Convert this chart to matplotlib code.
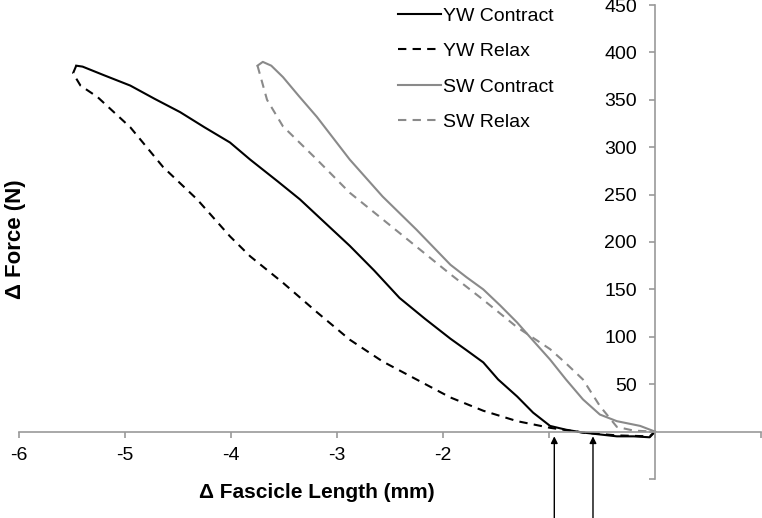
import numpy as np
import matplotlib
matplotlib.use('Agg')
import matplotlib.pyplot as plt

plt.rcParams['font.family'] = ['Liberation Sans', 'DejaVu Sans']

# YW contract (0 -> peak)
yw_con_x = [0, -0.05, -0.20, -0.36, -0.52, -0.68, -0.84, -0.99, -1.15, -1.30, -1.48, -1.62, -1.78, -1.93,
            -2.17, -2.41, -2.65, -2.88, -3.12, -3.35, -3.56, -3.82, -4.01, -4.25, -4.48, -4.72,
            -4.95, -5.20, -5.40, -5.46]
yw_con_y = [0, -6, -5, -5, -3, -1, 2, 6, 20, 37, 55, 73, 86, 98,
            119, 141, 170, 196, 221, 245, 264, 287, 305, 321, 337, 351,
            365, 376, 385, 386]

# YW relax (peak -> 0)
yw_rel_x = [-5.46, -5.49, -5.42, -5.26, -4.95, -4.64, -4.32, -4.01, -3.82, -3.51, -3.19, -2.88,
            -2.57, -2.25, -1.93, -1.62, -1.30, -0.99, -0.68, -0.36, -0.05, 0]
yw_rel_y = [386, 378, 365, 353, 321, 279, 245, 206, 185, 157, 126, 97,
            74, 55, 36, 22, 11, 4, -1, -4, -5, 0]

# SW contract (0 -> peak)
sw_con_x = [0, -0.14, -0.36, -0.52, -0.68, -0.84, -0.99, -1.15, -1.30, -1.46, -1.62, -1.78, -1.93,
            -2.25, -2.57, -2.88, -3.19, -3.36, -3.51, -3.62, -3.70, -3.75]
sw_con_y = [0, 6, 11, 18, 34, 55, 76, 96, 115, 133, 150, 163, 176,
            213, 248, 287, 332, 354, 374, 386, 390, 386]

# SW relax (peak -> 0)
sw_rel_x = [-3.75, -3.73, -3.66, -3.51, -3.19, -2.88, -2.57, -2.25, -1.93, -1.62, -1.30, -0.99,
            -0.84, -0.68, -0.52, -0.36, -0.20, 0]
sw_rel_y = [386, 378, 350, 322, 287, 252, 224, 195, 166, 139, 110, 87,
            72, 55, 27, 5, 1, 0]

arrow_x = [-0.95, -0.585]

gray = '#8a8a8a'
axis_gray = '#999999'

fig = plt.figure(figsize=(7.62, 5.18), dpi=100)
ax = fig.add_axes([19 / 762, 39 / 518, 742 / 762, 474 / 518])

ax.plot(yw_con_x, yw_con_y, color='black', lw=1.5, label='YW Contract')
ax.plot(yw_rel_x, yw_rel_y, color='black', lw=1.5, ls=(0, (4, 3)), label='YW Relax')
ax.plot(sw_con_x, sw_con_y, color=gray, lw=1.5, label='SW Contract')
ax.plot(sw_rel_x, sw_rel_y, color=gray, lw=1.5, ls=(0, (4, 3)), label='SW Relax')

ax.set_xlim(-6, 1)
ax.set_ylim(-50, 450)

ax.spines['left'].set_position(('data', 0))
ax.spines['bottom'].set_position(('data', 0))
ax.spines['right'].set_visible(False)
ax.spines['top'].set_visible(False)
for s in ['left', 'bottom']:
    ax.spines[s].set_color(axis_gray)
    ax.spines[s].set_linewidth(1.2)

xt = np.arange(-6, 2, 1)
ax.set_xticks(xt)
ax.set_xticklabels([str(v) if v <= -2 else '' for v in xt])
yt = np.arange(-50, 451, 50)
ax.set_yticks(yt)
ax.set_yticklabels([str(v) if v > 0 else '' for v in yt])
ax.tick_params(axis='both', direction='out', length=4, width=1.2, color=axis_gray,
               labelsize=14)
ax.tick_params(axis='y', pad=9)
ax.tick_params(axis='x', pad=7)

ax.set_xlabel('Δ Fascicle Length (mm)', fontsize=15, fontweight='bold')
ax.xaxis.set_label_coords((317 - 19) / 742, -(483 - 479) / 474)
ax.set_ylabel('Δ Force (N)', fontsize=16, fontweight='bold')
ax.yaxis.set_label_coords(7 / 742, (479 - 239) / 474)

for xa in arrow_x:
    ax.annotate('', xy=(xa, -5), xytext=(xa, -100), xycoords='data', textcoords='data',
                arrowprops=dict(arrowstyle='-|>', color='black', lw=1.0,
                                mutation_scale=10, shrinkA=0, shrinkB=0),
                annotation_clip=False)

leg = ax.legend(loc='upper left', bbox_to_anchor=(398 / 762, 1 - 7 / 518),
                bbox_transform=fig.transFigure, frameon=False, fontsize=14,
                handlelength=2.2, handletextpad=0.1, labelspacing=0.92,
                borderpad=0, borderaxespad=0)

fig.savefig('out.png', dpi=100)
